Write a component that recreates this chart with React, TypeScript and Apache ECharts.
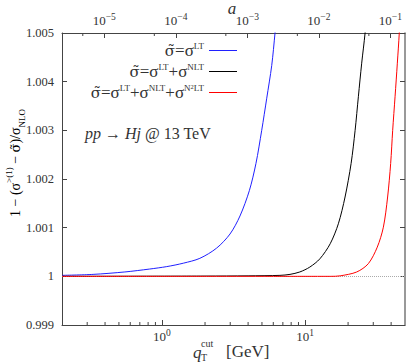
import React, { useEffect, useRef } from "react";
import * as echarts from "echarts";

// ---- data ----
const qtLT = [0.2, 0.33, 0.55, 0.82, 1.08, 1.41, 1.84, 2.41, 2.99, 3.51, 4.08, 4.54, 4.98, 5.4, 5.85, 6.17, 6.5];
const ratioLT = [1.00002, 1.00004, 1.00009, 1.00015, 1.0002, 1.00027, 1.00037, 1.00058, 1.00087, 1.00124, 1.00176, 1.00232, 1.003, 1.00366, 1.00433, 1.005, 1.0057];

const qtNLT = [0.2, 2, 4, 6.68, 7.85, 9.2, 10.8, 12.7, 15.0, 17.1, 19.05, 21.0, 22.4, 23.6, 24.9, 26.3, 27.5];
const ratioNLT = [1.0, 1.000005, 1.00001, 1.00002, 1.00004, 1.00009, 1.00019, 1.00036, 1.00067, 1.00108, 1.00163, 1.00232, 1.003, 1.00369, 1.00438, 1.005, 1.0057];

const qtN2LT = [0.2, 10, 15.0, 17.6, 23.0, 27.7, 32.0, 35.3, 37.8, 39.7, 41.0, 42.6, 44.2, 45.6, 47];
const ratioN2LT = [1.0, 1.0, 1.0, 1.00001, 1.00009, 1.00026, 1.0006, 1.00101, 1.00163, 1.00232, 1.003, 1.00369, 1.00438, 1.005, 1.0058];

const seriesNames = ["LT", "NLT", "N2LT"];
const seriesColors = ["#2020ff", "#000000", "#ff0000"];

const qMinorTicks = [0.3, 0.4, 0.5, 0.6, 0.7, 0.8, 0.9, 2, 3, 4, 5, 6, 7, 8, 9, 20, 30, 40];
const aMinorTicks = [5e-6, 5e-5, 5e-4, 5e-3, 5e-2];

const qMin = 0.2;
const qMax = 50;
const mH = 125;
const yMin = 0.999;
const yMax = 1.005;
const yStep = 0.001;

const FONT = "Liberation Serif";
const TFONT = "DejaVu Serif";
const TXT = "#333";
const AX = "#444";

const pairs = (xs: number[], ys: number[]) => xs.map((x, i) => [x, ys[i]]);

const legendLabels: Record<string, string> = {
  LT: "{t|σ̃}{s|=σ}{u|LT}",
  NLT: "{t|σ̃}{s|=σ}{u|LT}{s|+σ}{u|NLT}",
  N2LT: "{t|σ̃}{s|=σ}{u|LT}{s|+σ}{u|NLT}{s|+σ}{u|N}{uu|2}{u|LT}",
};

const expLabel = (v: number) => {
  const e = Math.round(Math.log10(v));
  return "{b|10}{e|" + (e < 0 ? "−" + -e : String(e)) + "}";
};

const powRich = {
  b: { fontFamily: FONT, fontSize: 13, color: TXT, lineHeight: 16, verticalAlign: "middle" },
  e: { fontFamily: FONT, fontSize: 9.5, color: TXT, lineHeight: 10, verticalAlign: "top" },
};

export default function App() {
  const ref = useRef<HTMLDivElement>(null);
  useEffect(() => {
    const chart = echarts.init(ref.current!, null, { renderer: "svg" });
    const gridTop = 33, gridLeft = 62, gridRight = 2, gridBottom = 37;

    const minorTick = (dir: "bottom" | "top", len: number) => (params: any, api: any) => {
      const v = api.value(0);
      const p = api.coord([v, dir === "bottom" ? yMin : yMax]);
      const y2 = dir === "bottom" ? p[1] - len : p[1] + len;
      return {
        type: "line",
        shape: { x1: p[0], y1: p[1], x2: p[0], y2 },
        style: { stroke: AX, lineWidth: 1 },
      };
    };

    chart.setOption({
      animation: false,
      backgroundColor: "#fff",
      textStyle: { fontFamily: FONT },
      grid: { left: gridLeft, right: gridRight, top: gridTop, bottom: gridBottom, show: false },
      xAxis: [
        {
          type: "log",
          min: qMin,
          max: qMax,
          position: "bottom",
          axisLine: { show: true, onZero: false, lineStyle: { color: AX, width: 1 } },
          axisTick: { show: true, inside: true, length: 5, lineStyle: { color: AX } },
          axisLabel: {
            margin: 3,
            showMinLabel: false,
            showMaxLabel: false,
            formatter: expLabel,
            rich: powRich,
          },
          splitLine: { show: false },
        },
        {
          type: "log",
          min: (qMin * qMin) / (mH * mH),
          max: (qMax * qMax) / (mH * mH),
          position: "top",
          axisLine: { show: true, onZero: false, lineStyle: { color: AX, width: 1 } },
          axisTick: { show: true, inside: true, length: 5, lineStyle: { color: AX } },
          axisLabel: {
            margin: 5,
            showMinLabel: false,
            showMaxLabel: false,
            formatter: expLabel,
            rich: powRich,
          },
          splitLine: { show: false },
        },
      ],
      yAxis: [
        {
          type: "value",
          min: yMin,
          max: yMax,
          interval: yStep,
          position: "left",
          axisLine: { show: true, onZero: false, lineStyle: { color: AX, width: 1 } },
          axisTick: { show: true, inside: true, length: 5, lineStyle: { color: AX } },
          axisLabel: {
            margin: 8,
            fontFamily: FONT,
            fontSize: 12.5,
            color: TXT,
            formatter: (v: number) => (Math.abs(v - 1) < 1e-9 ? "1" : v.toFixed(3)),
          },
          splitLine: { show: false },
        },
        {
          type: "value",
          min: yMin,
          max: yMax,
          interval: yStep,
          position: "right",
          axisLine: { show: true, onZero: false, lineStyle: { color: "#777", width: 1.5 } },
          axisTick: { show: true, inside: true, length: 5, lineStyle: { color: AX } },
          axisLabel: { show: false },
          splitLine: { show: false },
        },
      ],
      legend: {
        data: seriesNames,
        orient: "vertical",
        align: "right",
        right: 170,
        top: 41,
        padding: 0,
        itemGap: 3,
        itemWidth: 28,
        itemHeight: 1,
        icon: "rect",
        formatter: (name: string) => legendLabels[name],
        textStyle: {
          fontFamily: FONT,
          color: TXT,
          rich: {
            t: { fontFamily: TFONT, fontSize: 15, color: TXT, lineHeight: 19, verticalAlign: "middle" },
            s: { fontFamily: FONT, fontSize: 17, color: TXT, lineHeight: 19, verticalAlign: "middle" },
            u: { fontFamily: FONT, fontSize: 9, color: TXT, lineHeight: 14, verticalAlign: "top" },
            uu: { fontFamily: FONT, fontSize: 6.5, color: TXT, lineHeight: 10, verticalAlign: "top" },
          },
        },
      },
      series: [
        ...seriesNames.map((name, i) => ({
          name,
          type: "line",
          xAxisIndex: 0,
          yAxisIndex: 0,
          data: pairs([qtLT, qtNLT, qtN2LT][i], [ratioLT, ratioNLT, ratioN2LT][i]),
          showSymbol: false,
          symbol: "none",
          smooth: 0.3,
          clip: true,
          lineStyle: { color: seriesColors[i], width: 1 },
          itemStyle: { color: seriesColors[i] },
          z: 3 + i,
          markLine:
            i === 0
              ? {
                  silent: true,
                  symbol: "none",
                  label: { show: false },
                  lineStyle: { color: "#aaa", type: "dotted", width: 1 },
                  data: [{ yAxis: 1 }],
                }
              : undefined,
        })),
        {
          name: "qminor",
          type: "custom",
          xAxisIndex: 0,
          yAxisIndex: 0,
          data: qMinorTicks.map((v) => [v, yMin]),
          renderItem: minorTick("bottom", 3),
          silent: true,
          z: 10,
        },
        {
          name: "aminor",
          type: "custom",
          xAxisIndex: 1,
          yAxisIndex: 0,
          data: aMinorTicks.map((v) => [v, yMax]),
          renderItem: minorTick("top", 3),
          silent: true,
          z: 10,
        },
      ],
      graphic: [
        {
          type: "text",
          x: 232,
          y: 8,
          style: {
            text: "a",
            fontFamily: FONT,
            fontStyle: "italic",
            fontSize: 17,
            fill: TXT,
            align: "center",
            verticalAlign: "middle",
          },
        },
        {
          type: "text",
          x: 85,
          y: 133,
          style: {
            text: "{i|pp} → {i|Hj} @ 13 TeV",
            fill: TXT,
            align: "left",
            verticalAlign: "middle",
            fontFamily: FONT,
            fontSize: 16,
            rich: {
              i: { fontFamily: FONT, fontStyle: "italic", fontSize: 16, color: TXT },
            },
          },
        },
        {
          type: "text",
          x: 15,
          y: 163,
          rotation: Math.PI / 2,
          style: {
            text: "{n|1 − (σ}{u|>(1)}{n| − }{t|σ̃}{n|)/σ}{d|NLO}",
            align: "center",
            verticalAlign: "middle",
            fontFamily: FONT,
            rich: {
              n: { fontFamily: FONT, fontSize: 14, color: TXT, lineHeight: 22, verticalAlign: "middle" },
              t: { fontFamily: TFONT, fontSize: 13, color: TXT, lineHeight: 22, verticalAlign: "middle" },
              u: { fontFamily: FONT, fontSize: 9, color: TXT, lineHeight: 12, verticalAlign: "top" },
              d: { fontFamily: FONT, fontSize: 9, color: TXT, lineHeight: 12, verticalAlign: "bottom" },
            },
          },
        },
        {
          type: "group",
          children: [
            {
              type: "text",
              x: 193,
              y: 352,
              style: { text: "q", fontFamily: FONT, fontStyle: "italic", fontSize: 17, fill: TXT, align: "left", verticalAlign: "middle" },
            },
            {
              type: "text",
              x: 201,
              y: 343,
              style: { text: "cut", fontFamily: FONT, fontSize: 10, fill: TXT, align: "left", verticalAlign: "middle" },
            },
            {
              type: "text",
              x: 201,
              y: 357,
              style: { text: "T", fontFamily: FONT, fontSize: 10, fill: TXT, align: "left", verticalAlign: "middle" },
            },
            {
              type: "text",
              x: 226,
              y: 351,
              style: { text: "[GeV]", fontFamily: FONT, fontSize: 17, fill: TXT, align: "left", verticalAlign: "middle" },
            },
          ],
        },
      ],
    });
    return () => chart.dispose();
  }, []);
  return <div ref={ref} style={{ width: 407, height: 362, position: "absolute", left: 0, top: 0 }} />;
}
